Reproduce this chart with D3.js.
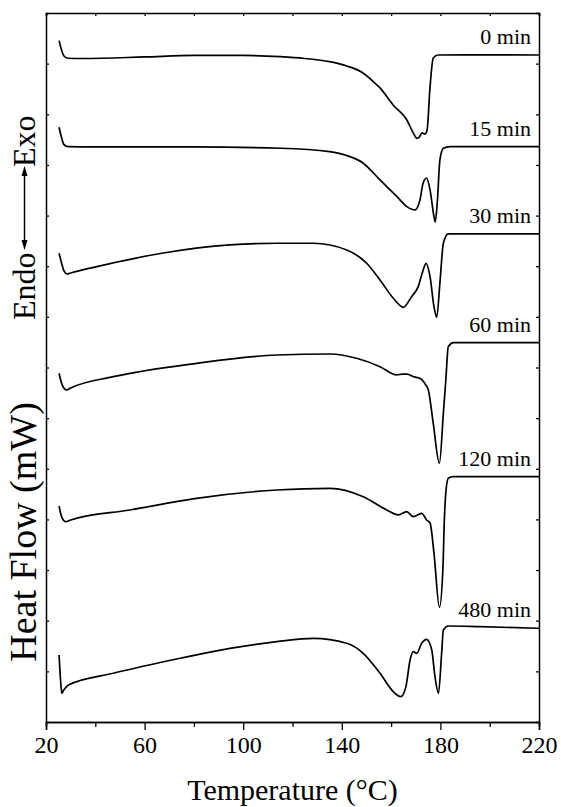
<!DOCTYPE html>
<html>
<head>
<meta charset="utf-8">
<script src="https://cdn.jsdelivr.net/npm/d3@7"></script>
<style>
  html, body { margin: 0; padding: 0; background: #fff; }
  svg { display: block; }
  text { font-family: "Liberation Serif", "Times New Roman", serif; fill: #000; }
</style>
</head>
<body>
<svg id="chart" width="561" height="807"></svg>
<script>
// Series labels (annealing time)
const seriesLabels = ["0 min", "15 min", "30 min", "60 min", "120 min", "480 min"];

// Temperature (°C) / heat flow (arbitrary offset mW units) for each curve
const curve0T = [25.3, 26.3, 27.3, 28.8, 35, 60, 80, 100, 115, 125, 135, 142, 148.6, 152, 155.5, 160.8, 166.4, 169, 170.5, 171.5, 172.5, 173.8, 174.6, 175.8, 177.1, 179, 190, 220];
const curve0H = [13.454, 13.27, 13.15, 13.106, 13.102, 13.132, 13.162, 13.162, 13.138, 13.102, 13.039, 12.954, 12.816, 12.678, 12.520, 12.184, 11.888, 11.631, 11.527, 11.552, 11.631, 11.611, 11.690, 12.540, 13.112, 13.171, 13.175, 13.171];

const curve15T = [25.3, 26.3, 27.3, 29, 40, 80, 115, 135, 142, 148.6, 155.5, 162.4, 166.4, 169.7, 171.7, 173, 174.4, 175.8, 177.4, 177.9, 178.8, 179.8, 181.2, 183.9, 220];
const curve15H = [11.744, 11.54, 11.40, 11.361, 11.355, 11.355, 11.329, 11.262, 11.187, 11.039, 10.703, 10.373, 10.176, 10.111, 10.308, 10.644, 10.742, 10.506, 9.978, 9.874, 10.308, 11.098, 11.329, 11.361, 11.361];

const curve30T = [25.3, 26.3, 27.3, 28.5, 30, 40.6, 67.6, 94.6, 113.6, 128.4, 142, 150.1, 155.5, 160.9, 165, 168.3, 171, 172.8, 174.2, 175.8, 177.4, 178.5, 179.8, 181.2, 183.2, 220];
const curve30H = [9.256, 9.064, 8.906, 8.847, 8.867, 8.991, 9.261, 9.420, 9.453, 9.453, 9.321, 9.058, 8.728, 8.367, 8.189, 8.399, 8.596, 8.892, 9.058, 8.794, 8.201, 7.992, 8.669, 9.453, 9.637, 9.637];

const curve60T = [25.3, 26.3, 27.5, 28.4, 30, 47.3, 81.1, 113.6, 135.2, 146, 155.5, 162.3, 164.5, 166.5, 169, 172, 174, 175.1, 177.1, 179.6, 181.2, 182.2, 183.2, 185.3, 220];
const curve60H = [6.886, 6.694, 6.576, 6.556, 6.596, 6.819, 7.083, 7.247, 7.267, 7.182, 7.016, 6.852, 6.87, 6.87, 6.82, 6.78, 6.66, 6.556, 5.898, 5.109, 6.096, 6.754, 7.411, 7.490, 7.490];

const curve120T = [25.3, 26, 27, 28, 30, 54, 81.1, 113.6, 135.2, 148.7, 158.2, 163, 166.3, 169, 172.4, 174.4, 175.8, 177.4, 179.6, 181, 181.6, 182.3, 183.2, 185.3, 220];
const curve120H = [4.265, 4.107, 3.989, 3.955, 3.989, 4.186, 4.417, 4.581, 4.615, 4.449, 4.186, 4.088, 4.153, 4.054, 4.121, 3.989, 3.930, 3.331, 2.265, 3.002, 3.989, 4.581, 4.812, 4.844, 4.844];

const curve480T = [25.3, 25.9, 26.4, 27.2, 29.1, 47.3, 74.4, 94.6, 113.6, 128.4, 142, 148.7, 155.5, 160.9, 163.9, 166, 167.7, 169, 170.4, 172.4, 174.4, 176.5, 177.8, 179.2, 180.5, 181.2, 183.2, 196, 220];
const curve480H = [1.323, 0.829, 0.567, 0.632, 0.731, 0.962, 1.258, 1.455, 1.586, 1.653, 1.554, 1.357, 0.962, 0.598, 0.500, 0.697, 1.224, 1.388, 1.357, 1.554, 1.633, 1.422, 0.895, 0.567, 1.357, 1.817, 1.896, 1.882, 1.850];

// Axis ticks
const xMajorTicks = [20, 60, 100, 140, 180, 220];
const xMinorTicks = [40, 80, 120, 160, 200];
const yTicks = [1, 2, 3, 4, 5, 6, 7, 8, 9, 10, 11, 12, 13];

const xLabel = "Temperature (°C)";
const yLabel = "Heat Flow (mW)";
const endoLabel = "Endo";
const exoLabel = "Exo";

const curvesT = [curve0T, curve15T, curve30T, curve60T, curve120T, curve480T];
const curvesH = [curve0H, curve15H, curve30H, curve60H, curve120H, curve480H];

const svg = d3.select("#chart");
const margin = { left: 46, right: 22, top: 13, bottom: 85 };
const W = 561, H = 807;
const x = d3.scaleLinear().domain([20, 220]).range([margin.left, W - margin.right]);
const y = d3.scaleLinear().domain([0, 14]).range([H - margin.bottom, margin.top]);

// Curves
const line = d3.line().x(d => x(d[0])).y(d => y(d[1])).curve(d3.curveMonotoneX);
curvesT.forEach((ts, i) => {
  const pts = ts.map((t, j) => [t, curvesH[i][j]]);
  svg.append("path").attr("d", line(pts)).attr("fill", "none")
    .attr("stroke", "#000").attr("stroke-width", 1.7).attr("stroke-linejoin", "round");
  const last = curvesH[i][curvesH[i].length - 1];
  svg.append("text").attr("x", x(220) - 8).attr("y", y(last) - 11)
    .attr("text-anchor", "end").attr("font-size", 22).text(seriesLabels[i]);
});

// Axes
const gB = svg.append("g").attr("transform", `translate(0,${y(0)})`)
  .call(d3.axisBottom(x).tickValues(xMajorTicks).tickSize(8).tickPadding(6).tickFormat(d3.format("d")));
svg.append("g").attr("transform", `translate(0,${y(0)})`)
  .call(d3.axisBottom(x).tickValues(xMinorTicks).tickSize(5).tickFormat(""));
svg.append("g").attr("transform", `translate(0,${y(14)})`)
  .call(d3.axisTop(x).tickValues(xMajorTicks.concat(xMinorTicks)).tickSize(-3).tickFormat(""));
svg.append("g").attr("transform", `translate(${x(20)},0)`)
  .call(d3.axisLeft(y).tickValues(yTicks).tickSize(-3).tickFormat(""));
svg.append("g").attr("transform", `translate(${x(220)},0)`)
  .call(d3.axisRight(y).tickValues(yTicks).tickSize(-3).tickFormat(""));
svg.selectAll(".domain").attr("stroke", "#000").attr("stroke-width", 1.5);
svg.selectAll(".tick line").attr("stroke", "#000").attr("stroke-width", 1.3);
gB.selectAll(".tick text").attr("font-size", 24).attr("font-family", "Liberation Serif, serif").attr("fill", "#000");

// X label
svg.append("text").attr("x", (x(20) + x(220)) / 2).attr("y", 800)
  .attr("text-anchor", "middle").attr("font-size", 30).text(xLabel);

// Y label
svg.append("text").attr("transform", `translate(36,${532}) rotate(-90)`)
  .attr("text-anchor", "middle").attr("font-size", 38).text(yLabel);
svg.append("text").attr("transform", `translate(35,${320}) rotate(-90)`)
  .attr("text-anchor", "start").attr("font-size", 32).text(endoLabel);
svg.append("text").attr("transform", `translate(35,${167}) rotate(-90)`)
  .attr("text-anchor", "start").attr("font-size", 32).text(exoLabel);
// double arrow
const ax = 24.5;
svg.append("line").attr("x1", ax).attr("x2", ax).attr("y1", 172).attr("y2", 244)
  .attr("stroke", "#000").attr("stroke-width", 1.5);
svg.append("path").attr("d", `M${ax},166 L${ax - 3},176 L${ax + 3},176 Z`).attr("fill", "#000");
svg.append("path").attr("d", `M${ax},250 L${ax - 3},240 L${ax + 3},240 Z`).attr("fill", "#000");
</script>
</body>
</html>
